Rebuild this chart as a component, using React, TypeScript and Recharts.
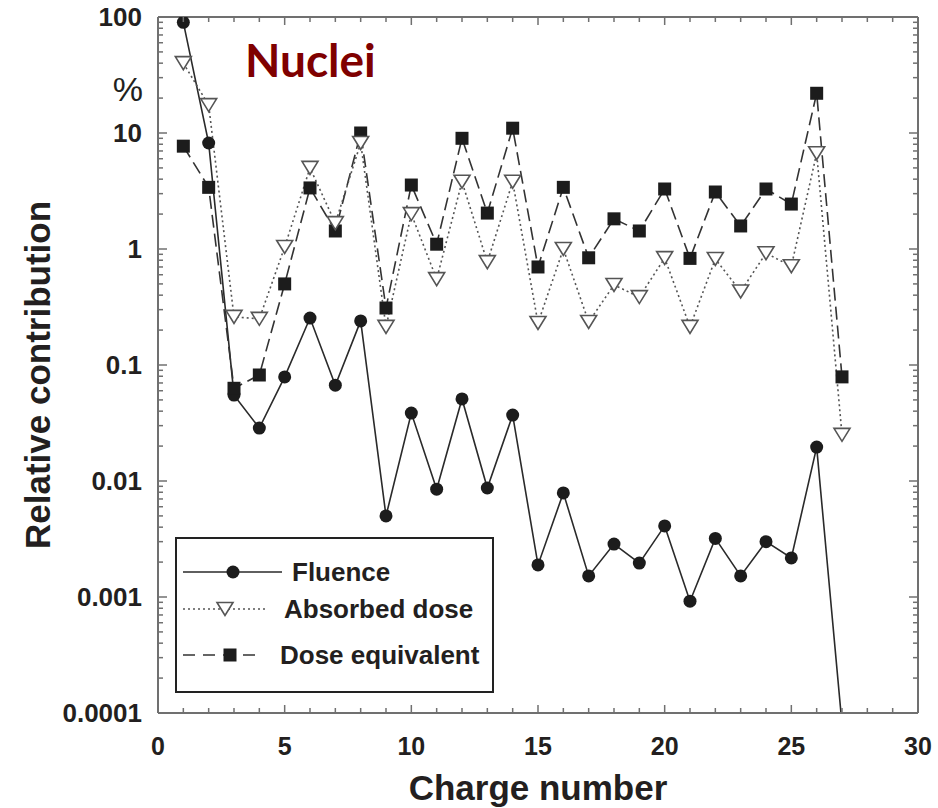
import React from 'react';
import { LineChart, Line, XAxis, YAxis, Legend, Label } from 'recharts';

const chargeNumbers = [1, 2, 3, 4, 5, 6, 7, 8, 9, 10, 11, 12, 13, 14, 15, 16, 17, 18, 19, 20, 21, 22, 23, 24, 25, 26, 27];
const fluence = [90, 8.2, 0.055, 0.0286, 0.079, 0.254, 0.067, 0.24, 0.005, 0.0385, 0.0085, 0.051, 0.0087, 0.037, 0.00189, 0.0079, 0.00152, 0.00286, 0.00196, 0.0041, 0.00092, 0.0032, 0.00152, 0.003, 0.00217, 0.0196, 0.00008];
const absorbedDose = [40, 17.4, 0.26, 0.25, 1.04, 5.0, 1.67, 8.2, 0.213, 2.0, 0.55, 3.8, 0.77, 3.8, 0.23, 1.0, 0.235, 0.49, 0.385, 0.835, 0.213, 0.82, 0.43, 0.92, 0.71, 6.7, 0.025];
const doseEquivalent = [7.7, 3.4, 0.063, 0.082, 0.5, 3.36, 1.43, 10, 0.31, 3.56, 1.1, 9.0, 2.04, 11, 0.7, 3.4, 0.84, 1.82, 1.43, 3.29, 0.83, 3.1, 1.58, 3.29, 2.44, 22, 0.079];

const xMajorTicks = [0, 5, 10, 15, 20, 25, 30];
const yMajorTicks = [0.0001, 0.001, 0.01, 0.1, 1, 10, 100];
const seriesNames = ['Fluence', 'Absorbed dose', 'Dose equivalent'];

const xAllTicks: number[] = [];
for (let i = xMajorTicks[0]; i <= xMajorTicks[xMajorTicks.length - 1]; i++) xAllTicks.push(i);
const yAllTicks: number[] = [];
yMajorTicks.forEach((v, i) => {
  yAllTicks.push(v);
  if (i < yMajorTicks.length - 1) for (let m = 2; m <= 9; m++) yAllTicks.push(v * m);
});

const rows = chargeNumbers.map((z, i) => ({
  z,
  fluence: fluence[i],
  absorbed: absorbedDose[i],
  doseEq: doseEquivalent[i],
}));

const FONT = '"Liberation Sans", Arial, Helvetica, sans-serif';
const TEXT = '#231f20';
const FRAME = '#707070';

const BottomTick = (p: any) => {
  const v = p.payload.value;
  const major = xMajorTicks.includes(v);
  return (
    <g>
      <line x1={p.x} x2={p.x} y1={p.y} y2={p.y - (major ? 8 : 5)} stroke={FRAME} strokeWidth={1.5} />
      {major && (
        <text x={p.x} y={p.y + 42} textAnchor="middle" fontSize={25} fontWeight="bold" fontFamily={FONT} fill={TEXT}>
          {v}
        </text>
      )}
    </g>
  );
};
const TopTick = (p: any) => {
  const major = xMajorTicks.includes(p.payload.value);
  return <line x1={p.x} x2={p.x} y1={p.y} y2={p.y + (major ? 8 : 5)} stroke={FRAME} strokeWidth={1.5} />;
};
const LeftTick = (p: any) => {
  const v = p.payload.value;
  const major = yMajorTicks.includes(v);
  return (
    <g>
      <line x1={p.x} x2={p.x + (major ? 9 : 5)} y1={p.y} y2={p.y} stroke={FRAME} strokeWidth={1.5} />
      {major && (
        <text x={p.x - 16} y={p.y + 9} textAnchor="end" fontSize={26} fontWeight="bold" fontFamily={FONT} fill={TEXT}>
          {String(v)}
        </text>
      )}
    </g>
  );
};
const RightTick = (p: any) => {
  const major = yMajorTicks.includes(p.payload.value);
  return <line x1={p.x} x2={p.x - (major ? 9 : 5)} y1={p.y} y2={p.y} stroke={FRAME} strokeWidth={1.5} />;
};

const CircleDot = (p: any) => {
  if (p.cx == null || p.cy == null) return <g key={`c${p.index}`} />;
  return <circle key={`c${p.index}`} cx={p.cx} cy={p.cy} r={6.5} fill="#1c1c1c" />;
};
const TriDot = (p: any) => {
  if (p.cx == null || p.cy == null) return <g key={`t${p.index}`} />;
  const { cx, cy } = p;
  return (
    <path
      key={`t${p.index}`}
      d={`M${cx - 8},${cy - 6.5} L${cx + 8},${cy - 6.5} L${cx},${cy + 6.5} Z`}
      fill="#fff"
      stroke="#555"
      strokeWidth={1.6}
    />
  );
};
const SquareDot = (p: any) => {
  if (p.cx == null || p.cy == null) return <g key={`s${p.index}`} />;
  return <rect key={`s${p.index}`} x={p.cx - 6.5} y={p.cy - 6.5} width={13} height={13} fill="#1c1c1c" />;
};

const renderLegend = () => (
  <svg width={319} height={156} style={{ display: 'block' }}>
    <rect x={1} y={1} width={317} height={154} fill="#fff" stroke="#222" strokeWidth={2} />
    <line x1={8} x2={107} y1={35} y2={35} stroke="#2a2a2a" strokeWidth={1.6} />
    <circle cx={58} cy={35} r={6.5} fill="#1c1c1c" />
    <text x={117} y={44} fontSize={26} fontWeight="bold" fontFamily={FONT} fill={TEXT}>{seriesNames[0]}</text>
    <line x1={8} x2={92} y1={72} y2={72} stroke="#555" strokeWidth={1.6} strokeDasharray="2 3" />
    <path d="M42,65.5 L58,65.5 L50,78.5 Z" fill="#fff" stroke="#555" strokeWidth={1.6} />
    <text x={109} y={81} fontSize={26} fontWeight="bold" fontFamily={FONT} fill={TEXT}>{seriesNames[1]}</text>
    <line x1={8} x2={88} y1={118} y2={118} stroke="#333" strokeWidth={1.6} strokeDasharray="12 8" />
    <rect x={48.5} y={111.5} width={13} height={13} fill="#1c1c1c" />
    <text x={105} y={127} fontSize={26} fontWeight="bold" fontFamily={FONT} fill={TEXT}>{seriesNames[2]}</text>
  </svg>
);

export default function App() {
  return (
    <div style={{ position: 'absolute', left: 0, top: 0, width: 938, height: 808, background: '#fff' }}>
      <LineChart width={938} height={808} data={rows} margin={{ top: 16, right: 19, bottom: 65, left: 98 }}>
        <XAxis
          dataKey="z"
          type="number"
          domain={[0, 30]}
          ticks={xAllTicks}
          interval={0}
          allowDataOverflow
          height={30}
          tickSize={0}
          tickMargin={0}
          tickLine={false}
          tick={BottomTick}
          axisLine={{ stroke: FRAME, strokeWidth: 2 }}
        >
          <Label
            content={(lp: any) => (
              <text
                x={lp.viewBox.x + lp.viewBox.width / 2}
                y={lp.viewBox.y + 87}
                textAnchor="middle"
                fontSize={35}
                fontWeight="bold"
                fontFamily={FONT}
                fill={TEXT}
              >
                Charge number
              </text>
            )}
          />
        </XAxis>
        <XAxis
          xAxisId="top"
          orientation="top"
          dataKey="z"
          type="number"
          domain={[0, 30]}
          ticks={xAllTicks}
          interval={0}
          allowDataOverflow
          height={1}
          tickSize={0}
          tickMargin={0}
          tickLine={false}
          tick={TopTick}
          axisLine={{ stroke: FRAME, strokeWidth: 2 }}
        >
          <Label
            content={(lp: any) => (
              <text x={lp.viewBox.x + 87} y={lp.viewBox.y + 61} fontSize={46} fontWeight="bold" fontFamily="Lato, 'Open Sans', sans-serif" fill="#7f0000">
                Nuclei
              </text>
            )}
          />
        </XAxis>
        <YAxis
          scale="log"
          type="number"
          domain={[0.0001, 100]}
          ticks={yAllTicks}
          interval={0}
          allowDataOverflow
          width={60}
          tickSize={0}
          tickMargin={0}
          tickLine={false}
          tick={LeftTick}
          axisLine={{ stroke: FRAME, strokeWidth: 2 }}
        >
          <Label
            content={(lp: any) => {
              const cx = lp.viewBox.x - 48;
              const cy = lp.viewBox.y + lp.viewBox.height / 2 + 10;
              return (
                <text
                  x={cx}
                  y={cy}
                  transform={`rotate(-90, ${cx}, ${cy})`}
                  textAnchor="middle"
                  fontSize={35}
                  fontWeight="bold"
                  fontFamily={FONT}
                  fill={TEXT}
                >
                  Relative contribution
                </text>
              );
            }}
          />
          <Label
            content={(lp: any) => (
              <text x={lp.viewBox.x + lp.viewBox.width - 15} y={lp.viewBox.y + 84} textAnchor="end" fontSize={34} fontFamily={FONT} fill={TEXT}>
                %
              </text>
            )}
          />
        </YAxis>
        <YAxis
          yAxisId="right"
          orientation="right"
          scale="log"
          type="number"
          domain={[0.0001, 100]}
          ticks={yAllTicks}
          interval={0}
          allowDataOverflow
          width={1}
          tickSize={0}
          tickMargin={0}
          tickLine={false}
          tick={RightTick}
          axisLine={{ stroke: FRAME, strokeWidth: 2 }}
        />
        <Legend
          layout="vertical"
          align="center"
          verticalAlign="middle"
          wrapperStyle={{ left: 175, top: 537, width: 319, height: 156 }}
          content={renderLegend}
        />
        <Line
          dataKey="fluence"
          name={seriesNames[0]}
          stroke="#2a2a2a"
          strokeWidth={1.6}
          dot={CircleDot}
          activeDot={false}
          isAnimationActive={false}
        />
        <Line
          dataKey="doseEq"
          name={seriesNames[2]}
          stroke="#333"
          strokeWidth={1.6}
          strokeDasharray="13 6"
          dot={SquareDot}
          activeDot={false}
          isAnimationActive={false}
        />
        <Line
          dataKey="absorbed"
          name={seriesNames[1]}
          stroke="#555"
          strokeWidth={1.6}
          strokeDasharray="2 3"
          dot={TriDot}
          activeDot={false}
          isAnimationActive={false}
        />
      </LineChart>
    </div>
  );
}
